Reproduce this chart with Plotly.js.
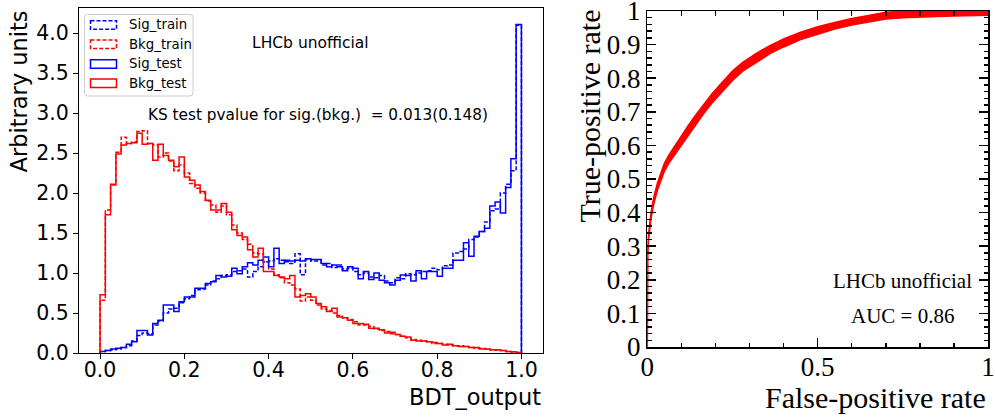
<!DOCTYPE html>
<html><head><meta charset="utf-8">
<script src="https://cdn.plot.ly/plotly-3.0.1.min.js"></script>
<style>html,body{margin:0;padding:0;background:#fff}#chart{width:995px;height:417px}</style>
</head><body><div id="chart"></div>
<script>
// ---------- histogram data (80 bins on [0,1]) ----------
const binLow = 0, binHigh = 1, nBins = 80;
const sigTrain = [0.02,0.03,0.04,0.05,0.07,0.09,0.15,0.22,0.25,0.24,
  0.35,0.40,0.50,0.55,0.56,0.63,0.68,0.72,0.79,0.80,
  0.85,0.90,0.93,0.97,0.98,1.02,1.03,1.05,0.95,1.02,
  1.08,1.14,1.15,1.18,1.16,1.14,1.12,1.24,0.98,1.17,
  1.15,1.15,1.10,1.12,1.07,1.10,1.05,1.06,1.02,0.98,
  1.00,0.95,0.94,0.97,0.90,0.88,0.94,0.93,0.99,0.98,
  1.00,1.02,1.03,1.06,1.04,1.09,1.10,1.25,1.27,1.30,
  1.42,1.45,1.52,1.64,1.78,1.80,2.00,2.11,2.28,4.10];
const bkgTrain = [0.66,1.79,2.10,2.51,2.70,2.62,2.64,2.77,2.78,2.62,
  2.60,2.45,2.50,2.40,2.28,2.35,2.25,2.12,2.06,2.00,
  1.90,1.85,1.76,1.84,1.73,1.60,1.50,1.42,1.36,1.25,
  1.24,1.14,1.05,0.98,0.94,0.88,0.85,0.80,0.65,0.70,
  0.66,0.60,0.55,0.53,0.50,0.47,0.44,0.42,0.39,0.35,
  0.35,0.33,0.30,0.28,0.27,0.24,0.23,0.21,0.19,0.17,
  0.16,0.15,0.14,0.12,0.12,0.11,0.10,0.09,0.09,0.08,
  0.07,0.06,0.06,0.05,0.04,0.035,0.03,0.02,0.012,0.005];
const sigTest = [0.02,0.03,0.05,0.06,0.07,0.11,0.14,0.28,0.28,0.225,
  0.37,0.41,0.60,0.60,0.52,0.64,0.70,0.70,0.81,0.81,
  0.87,0.89,0.97,0.95,0.96,1.06,0.99,1.08,1.13,1.10,
  1.16,1.20,1.08,1.31,1.12,1.16,1.15,1.16,1.15,1.18,
  1.17,1.17,1.12,1.08,1.10,1.08,1.03,1.08,1.06,0.93,
  1.02,0.92,1.00,0.91,0.88,0.85,0.91,0.975,0.97,0.90,
  1.03,0.93,1.02,1.02,0.96,1.06,1.06,1.16,1.16,1.38,
  1.21,1.46,1.52,1.56,1.84,1.89,1.75,2.07,2.43,4.11];
const bkgTest = [0.73,1.73,2.11,2.49,2.60,2.62,2.63,2.75,2.61,2.62,
  2.41,2.61,2.47,2.41,2.33,2.45,2.20,2.16,2.10,2.02,
  1.91,1.79,1.79,1.87,1.76,1.54,1.47,1.45,1.29,1.20,
  1.31,1.02,1.02,0.97,0.95,0.93,0.97,0.70,0.72,0.74,
  0.70,0.62,0.58,0.52,0.56,0.45,0.44,0.41,0.37,0.37,
  0.36,0.31,0.31,0.29,0.25,0.26,0.23,0.21,0.20,0.16,
  0.15,0.15,0.14,0.13,0.12,0.10,0.11,0.09,0.08,0.08,
  0.07,0.07,0.05,0.05,0.04,0.04,0.03,0.02,0.015,0.005];
const histXTicks = [0, 0.2, 0.4, 0.6, 0.8, 1.0];
const histXTickText = ['0.0','0.2','0.4','0.6','0.8','1.0'];
const histYTicks = [0, 0.5, 1, 1.5, 2, 2.5, 3, 3.5, 4];
const histYTickText = ['0.0','0.5','1.0','1.5','2.0','2.5','3.0','3.5','4.0'];
const seriesNames = ['Sig_train','Bkg_train','Sig_test','Bkg_test'];

// ---------- ROC data (lower / upper edge of the noisy curve band) ----------
const rocFpr     = [0, 0, 0.001, 0.003, 0.006, 0.01, 0.015, 0.02, 0.03, 0.04, 0.05, 0.065, 0.08, 0.10, 0.12, 0.14, 0.165, 0.19, 0.22, 0.25, 0.28, 0.32, 0.36, 0.40, 0.45, 0.50, 0.55, 0.60, 0.65, 0.70, 0.75, 0.80, 0.85, 0.90, 0.95, 1.0];
const rocTprHigh = [0, 0.258, 0.288, 0.328, 0.363, 0.393, 0.424, 0.450, 0.489, 0.520, 0.547, 0.574, 0.598, 0.629, 0.659, 0.688, 0.722, 0.754, 0.788, 0.821, 0.847, 0.874, 0.897, 0.917, 0.937, 0.953, 0.966, 0.978, 0.987, 0.996, 1.000, 1.003, 1.004, 1.005, 1.006, 1.007];
const rocTprLow  = [0, 0.242, 0.272, 0.312, 0.347, 0.377, 0.406, 0.430, 0.467, 0.496, 0.523, 0.550, 0.572, 0.601, 0.631, 0.660, 0.694, 0.726, 0.760, 0.793, 0.821, 0.848, 0.873, 0.893, 0.915, 0.931, 0.946, 0.958, 0.967, 0.976, 0.980, 0.983, 0.984, 0.985, 0.986, 0.987];
const rocXTicks = [0, 0.5, 1];
const rocXTickText = ['0', '0.5', '1'];
const rocYTicks = [0, 0.1, 0.2, 0.3, 0.4, 0.5, 0.6, 0.7, 0.8, 0.9, 1];
const rocYTickText = ['0','0.1','0.2','0.3','0.4','0.5','0.6','0.7','0.8','0.9','1'];
const aucText = 'AUC = 0.86';

// ---------- helpers ----------
const W = 995, H = 417;
const px = v => v / W;
const py = v => 1 - v / H;
const edges = [];
for (let i = 0; i < nBins; i++) edges.push(binLow + (binHigh - binLow) * i / nBins);
function stepTrace(vals, name, color, dash) {
  const x = [binLow], y = [0];
  for (let i = 0; i < vals.length; i++) { x.push(edges[i]); y.push(vals[i]); }
  x.push(binHigh); y.push(0);
  return {type:'scatter', mode:'lines', x:x, y:y, name:name, showlegend:false,
    line:{shape:'hv', color:color, width:1.5, dash:dash}, xaxis:'x', yaxis:'y', hoverinfo:'skip'};
}
const traces = [
  stepTrace(sigTrain, seriesNames[0], '#0000ff', '4px,2px'),
  stepTrace(bkgTrain, seriesNames[1], '#ff0000', '4px,2px'),
  stepTrace(sigTest, seriesNames[2], '#0000ff', 'solid'),
  stepTrace(bkgTest, seriesNames[3], '#ff0000', 'solid'),
  {type:'scatter', mode:'lines', x:rocFpr, y:rocTprLow, xaxis:'x2', yaxis:'y2', showlegend:false,
    line:{color:'#ff0000', width:1.5}, hoverinfo:'skip'},
  {type:'scatter', mode:'lines', x:rocFpr, y:rocTprHigh, xaxis:'x2', yaxis:'y2', showlegend:false,
    fill:'tonexty', fillcolor:'#ff0000', line:{color:'#ff0000', width:1.5}, hoverinfo:'skip'}
];

const dv = 'DejaVu Sans', serif = 'Liberation Serif';
const ann = (text, x, y, size, family, extra) => Object.assign({
  text:text, x:px(x), y:py(y), xref:'paper', yref:'paper', showarrow:false,
  xanchor:'center', yanchor:'middle', font:{family:family, size:size, color:'#000'}
}, extra || {});

const annotations = [
  ann('Arbitrary units', 19, 91.5, 22.5, dv, {textangle:-90}),
  ann('BDT_output', 542.5, 397, 22.5, dv, {xanchor:'right'}),
  ann('LHCb unofficial', 310.5, 43.3, 15.5, dv),
  ann('KS test pvalue for sig.(bkg.)\u00a0 = 0.013(0.148)', 317.5, 115, 15.3, dv),
  ann('LHCb unofficial', 902.5, 281, 21, serif),
  ann(aucText, 902.5, 315.5, 21, serif),
  ann('True-positive rate', 589, 116.5, 30, serif, {textangle:-90}),
  ann('False-positive rate', 988, 397, 30, serif, {xanchor:'right'})
];
// manual legend (matplotlib style: outlined patches)
const legRows = [25, 44.3, 64, 83.3];
const legColors = ['#0000ff','#ff0000','#0000ff','#ff0000'];
const legDash = ['4px,2px','4px,2px','solid','solid'];
const shapes = [];
{
  const x0 = 84.5, x1 = 193, y0 = 14.5, y1 = 96, r = 3;
  const p = `M${px(x0+r)},${py(y0)} L${px(x1-r)},${py(y0)} Q${px(x1)},${py(y0)} ${px(x1)},${py(y0+r)} L${px(x1)},${py(y1-r)} Q${px(x1)},${py(y1)} ${px(x1-r)},${py(y1)} L${px(x0+r)},${py(y1)} Q${px(x0)},${py(y1)} ${px(x0)},${py(y1-r)} L${px(x0)},${py(y0+r)} Q${px(x0)},${py(y0)} ${px(x0+r)},${py(y0)} Z`;
  shapes.push({type:'path', path:p, xref:'paper', yref:'paper', line:{color:'#cccccc', width:1}, fillcolor:'rgba(255,255,255,0.8)', layer:'above'});
}
legRows.forEach((yc, i) => {
  shapes.push({type:'rect', xref:'paper', yref:'paper', x0:px(90.5), x1:px(116.5), y0:py(yc-4.3), y1:py(yc+4.3),
    line:{color:legColors[i], width:1.5, dash:legDash[i]}, fillcolor:'rgba(0,0,0,0)', layer:'above'});
  annotations.push(ann(seriesNames[i], 126.7, yc, 13.3, dv, {xanchor:'left'}));
});

const layout = {
  width:W, height:H, margin:{l:0, r:0, t:0, b:0}, paper_bgcolor:'#fff', plot_bgcolor:'#fff',
  showlegend:false,
  xaxis:{domain:[px(79), px(542.5)], range:[-0.05, 1.05], anchor:'y',
    tickvals:histXTicks, ticktext:histXTickText, ticks:'outside', ticklen:5, tickwidth:1, tickcolor:'#000',
    ticklabelstandoff:-7,
    showline:true, linecolor:'#000', linewidth:1, mirror:true, showgrid:false, zeroline:false,
    tickfont:{family:dv, size:20.5, color:'#000'}},
  yaxis:{domain:[1-353/H, 1-8/H], range:[0, 4.315], anchor:'x',
    tickvals:histYTicks, ticktext:histYTickText, ticks:'outside', ticklen:5, tickwidth:1, tickcolor:'#000',
    showline:true, linecolor:'#000', linewidth:1, mirror:true, showgrid:false, zeroline:false,
    tickfont:{family:dv, size:20.5, color:'#000'}},
  xaxis2:{domain:[px(647.3), px(988)], range:[0, 1], anchor:'y2',
    tickvals:rocXTicks, ticktext:rocXTickText, ticks:'inside', ticklen:9, tickwidth:1.5, tickcolor:'#000',
    ticklabelstandoff:-5, ticklabeloverflow:'allow',
    minor:{ticks:'inside', ticklen:4.5, tickwidth:1.5, tickcolor:'#000', dtick:0.1, tick0:0, showgrid:false},
    showline:true, linecolor:'#000', linewidth:1.5, mirror:'allticks', showgrid:false, zeroline:false,
    tickfont:{family:serif, size:27, color:'#000'}},
  yaxis2:{domain:[1-347/H, 1-11/H], range:[0, 1], anchor:'x2',
    tickvals:rocYTicks, ticktext:rocYTickText, ticks:'inside', ticklen:9, tickwidth:1.5, tickcolor:'#000',
    ticklabeloverflow:'allow',
    minor:{ticks:'inside', ticklen:4.5, tickwidth:1.5, tickcolor:'#000', dtick:0.02, tick0:0, showgrid:false},
    showline:true, linecolor:'#000', linewidth:1.5, mirror:'allticks', showgrid:false, zeroline:false,
    tickfont:{family:serif, size:27, color:'#000'}},
  annotations:annotations, shapes:shapes
};
Plotly.newPlot('chart', traces, layout, {staticPlot:true, displayModeBar:false});
</script>
</body></html>
